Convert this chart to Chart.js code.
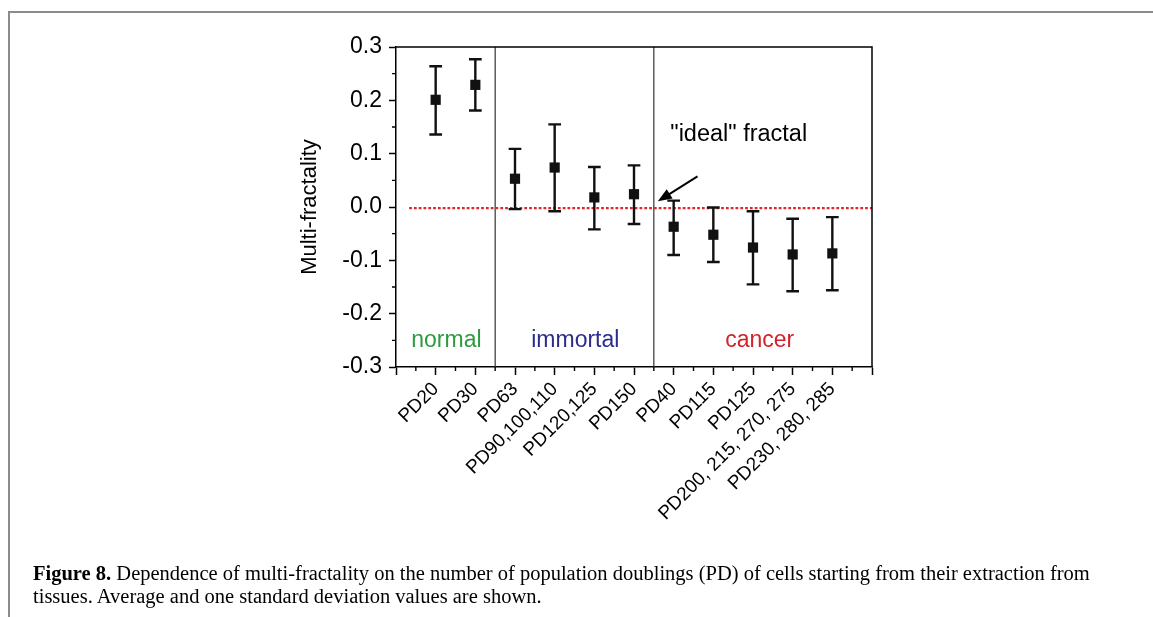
<!DOCTYPE html>
<html>
<head>
<meta charset="utf-8">
<script src="https://cdn.jsdelivr.net/npm/chart.js@4"></script>
<style>
  html, body { margin: 0; padding: 0; background: #fff; }
  #wrap { position: relative; width: 1153px; height: 617px; overflow: hidden; }
  #chart { position: absolute; left: 0; top: 0; }
  .frame-top { position: absolute; left: 8px; top: 11px; width: 1145px; height: 2px; background: #8c8c8c; }
  .frame-left { position: absolute; left: 8px; top: 11px; width: 2px; height: 606px; background: #8c8c8c; }
  #caption { position: absolute; left: 33px; top: 562px; font-family: "Liberation Serif", "DejaVu Serif", serif;
             font-size: 20.5px; line-height: 23px; color: #000; white-space: nowrap; }
</style>
</head>
<body>
<div id="wrap">
  <canvas id="chart" width="1153" height="617"></canvas>
  <div class="frame-top"></div>
  <div class="frame-left"></div>
  <div id="caption"><b>Figure 8.</b> Dependence of multi-fractality on the number of population doublings (PD) of cells starting from their extraction from<br>tissues. Average and one standard deviation values are shown.</div>
</div>
<script>
// categories along the x axis (placed at 1..11)
const categories = ['PD20', 'PD30', 'PD63', 'PD90,100,110', 'PD120,125', 'PD150',
                    'PD40', 'PD115', 'PD125', 'PD200, 215, 270, 275', 'PD230, 280, 285'];
// mean multi-fractality and the ends of the +/- one SD bars
const meanValues  = [0.201, 0.229, 0.053, 0.074, 0.018, 0.024, -0.037, -0.052, -0.076, -0.089, -0.087];
const upperValues = [0.264, 0.277, 0.109, 0.155, 0.075, 0.078, 0.012, -0.001, -0.008, -0.022, -0.019];
const lowerValues = [0.136, 0.181, -0.004, -0.008, -0.042, -0.032, -0.090, -0.103, -0.145, -0.158, -0.156];
// group dividers and group names
const dividers = [2.5, 6.5];
const groups = [
  { name: 'normal', x: 1.27, y: -0.251, color: '#2f9a41' },
  { name: 'immortal', x: 4.52, y: -0.251, color: '#2c2c8e' },
  { name: 'cancer', x: 9.17, y: -0.251, color: '#d2222a' }
];
const idealLevel = -0.002;
const yTicks = { min: -0.3, max: 0.3, step: 0.1 };

const FONT = '"Liberation Sans", Arial, sans-serif';
const capHalf = 0.16;

const barPoints = [];
const capPoints = [];
categories.forEach((c, i) => {
  const x = i + 1;
  barPoints.push({ x: x, y: lowerValues[i] }, { x: x, y: upperValues[i] }, { x: x, y: null });
  capPoints.push({ x: x - capHalf, y: upperValues[i] }, { x: x + capHalf, y: upperValues[i] }, { x: x, y: null });
  capPoints.push({ x: x - capHalf, y: lowerValues[i] }, { x: x + capHalf, y: lowerValues[i] }, { x: x, y: null });
});
const dividerPoints = [];
dividers.forEach(d => dividerPoints.push({ x: d, y: yTicks.min }, { x: d, y: yTicks.max }, { x: d, y: null }));

const extras = {
  id: 'extras',
  afterDraw(chart) {
    const { ctx, chartArea: a, scales: { x, y } } = chart;
    ctx.save();
    ctx.strokeStyle = '#000';
    ctx.lineWidth = 1.5;
    ctx.beginPath();
    ctx.moveTo(a.left, a.top);
    ctx.lineTo(a.right, a.top);
    ctx.lineTo(a.right, a.bottom);
    ctx.stroke();

    // minor ticks
    ctx.lineWidth = 1.4;
    ctx.beginPath();
    for (let v = 0.5; v < 12; v += 1) {
      const px = x.getPixelForValue(v);
      ctx.moveTo(px, a.bottom);
      ctx.lineTo(px, a.bottom + 4);
    }
    for (let v = -0.25; v < 0.3; v += 0.1) {
      const py = y.getPixelForValue(v);
      ctx.moveTo(a.left, py);
      ctx.lineTo(a.left - 4, py);
    }
    ctx.stroke();

    // group names
    ctx.font = '23px ' + FONT;
    ctx.textAlign = 'center';
    ctx.textBaseline = 'middle';
    groups.forEach(g => {
      ctx.fillStyle = g.color;
      ctx.fillText(g.name, x.getPixelForValue(g.x), y.getPixelForValue(g.y));
    });

    // "ideal" fractal note with arrow
    ctx.fillStyle = '#000';
    ctx.font = '23.5px ' + FONT;
    ctx.fillText('"ideal" fractal', x.getPixelForValue(8.64), y.getPixelForValue(0.135));
    const x0 = x.getPixelForValue(7.6), y0 = y.getPixelForValue(0.0575);
    const x1 = x.getPixelForValue(6.6), y1 = y.getPixelForValue(0.0107);
    const ang = Math.atan2(y1 - y0, x1 - x0);
    ctx.lineWidth = 2;
    ctx.beginPath();
    ctx.moveTo(x0, y0);
    ctx.lineTo(x1 - 8 * Math.cos(ang), y1 - 8 * Math.sin(ang));
    ctx.stroke();
    ctx.beginPath();
    ctx.moveTo(x1, y1);
    ctx.lineTo(x1 - 14 * Math.cos(ang) + 5.5 * Math.sin(ang), y1 - 14 * Math.sin(ang) - 5.5 * Math.cos(ang));
    ctx.lineTo(x1 - 14 * Math.cos(ang) - 5.5 * Math.sin(ang), y1 - 14 * Math.sin(ang) + 5.5 * Math.cos(ang));
    ctx.closePath();
    ctx.fill();
    ctx.restore();
  }
};

new Chart(document.getElementById('chart').getContext('2d'), {
  type: 'scatter',
  data: {
    datasets: [
      {
        label: 'mean',
        data: meanValues.map((v, i) => ({ x: i + 1, y: v })),
        pointStyle: 'rect',
        pointRadius: 7.2,
        backgroundColor: '#111',
        borderWidth: 0
      },
      {
        label: 'sd',
        data: barPoints,
        showLine: true,
        spanGaps: false,
        borderColor: '#111',
        borderWidth: 2.4,
        pointRadius: 0
      },
      {
        label: 'caps',
        data: capPoints,
        showLine: true,
        spanGaps: false,
        borderColor: '#111',
        borderWidth: 2.4,
        pointRadius: 0
      },
      {
        label: 'ideal',
        data: [{ x: 0.33, y: idealLevel }, { x: 12, y: idealLevel }],
        showLine: true,
        borderColor: '#e3262c',
        borderWidth: 2.2,
        borderDash: [2.8, 2],
        pointRadius: 0
      },
      {
        label: 'dividers',
        data: dividerPoints,
        showLine: true,
        spanGaps: false,
        borderColor: '#333',
        borderWidth: 1.2,
        pointRadius: 0
      }
    ]
  },
  options: {
    responsive: false,
    animation: false,
    layout: { padding: { left: 290, right: 281, top: 47, bottom: 0 } },
    plugins: {
      legend: { display: false },
      tooltip: { enabled: false }
    },
    scales: {
      x: {
        type: 'linear',
        min: 0,
        max: 12,
        afterFit: s => { s.height = 250; },
        afterBuildTicks: s => { s.ticks = Array.from({ length: 13 }, (_, i) => ({ value: i })); },
        ticks: {
          stepSize: 1,
          autoSkip: false,
          minRotation: 45,
          maxRotation: 45,
          padding: 3,
          color: '#000',
          font: { family: FONT, size: 19 },
          callback: v => categories[v - 1] || ''
        },
        grid: { drawOnChartArea: false, tickLength: 8, tickWidth: 1.5, tickColor: '#000' },
        border: { display: true, color: '#000', width: 1.5 }
      },
      y: {
        min: yTicks.min,
        max: yTicks.max,
        afterFit: s => { s.width = 106; },
        ticks: {
          stepSize: yTicks.step,
          padding: 7,
          color: '#000',
          font: { family: FONT, size: 23 },
          callback: v => (Math.abs(v) < 1e-9 ? 0 : v).toFixed(1)
        },
        title: {
          display: true,
          text: 'Multi-fractality',
          color: '#000',
          font: { family: FONT, size: 22 },
          padding: { top: 7, bottom: 0 }
        },
        grid: { drawOnChartArea: false, tickLength: 7, tickWidth: 1.5, tickColor: '#000' },
        border: { display: true, color: '#000', width: 1.5 }
      }
    }
  },
  plugins: [extras]
});
</script>
</body>
</html>
